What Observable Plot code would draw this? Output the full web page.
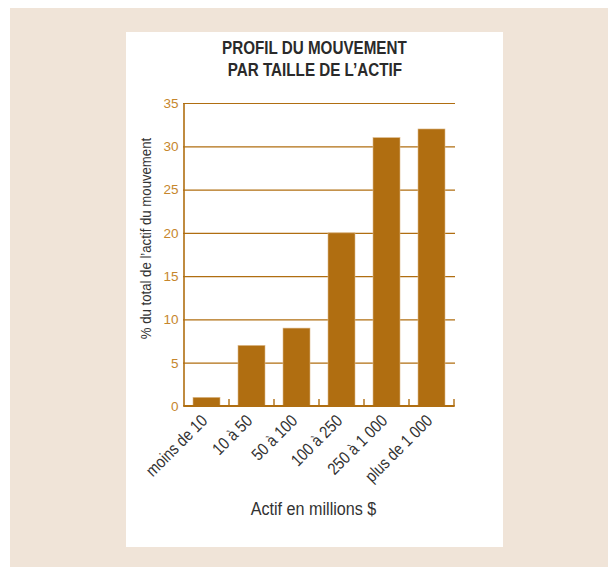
<!DOCTYPE html>
<html lang="fr">
<head>
<meta charset="utf-8">
<script src="https://cdn.jsdelivr.net/npm/d3@7"></script>
<script src="https://cdn.jsdelivr.net/npm/@observablehq/plot@0.6"></script>
<style>
  html, body { margin: 0; padding: 0; background: #ffffff; }
  body { width: 608px; height: 567px; position: relative; overflow: hidden; }
  #backdrop { position: absolute; left: 10px; top: 8px; width: 598px; height: 559px; background: #f0e4d8; }
  #panel { position: absolute; left: 126px; top: 32px; width: 377px; height: 515px; background: #ffffff; }
  #title {
    position: absolute; left: 126px; width: 377px; top: 37px; margin: 0;
    text-align: center; color: #2a2a2a;
    font: bold 19px/21.7px "Liberation Sans", Arial, sans-serif;
  }
  #title span { display: inline-block; transform: scaleX(0.8); transform-origin: 50% 50%; white-space: nowrap; }
  #chart { position: absolute; left: 0; top: 0; }
</style>
</head>
<body>
<div id="backdrop"></div>
<div id="panel"></div>
<h1 id="title"><span>PROFIL DU MOUVEMENT</span><br><span>PAR TAILLE DE L’ACTIF</span></h1>
<div id="chart"></div>
<script>
// Asset-size brackets (millions $) and their share of the movement's total assets (%)
const categories = ["moins de 10", "10 à 50", "50 à 100", "100 à 250", "250 à 1 000", "plus de 1 000"];
const shares = [1, 7, 9, 20, 31, 32];
const yTicks = [0, 5, 10, 15, 20, 25, 30, 35];
const yLabel = "% du total de l’actif du mouvement";
const xLabel = "Actif en millions $";

const rows = categories.map((c, i) => ({bracket: c, share: shares[i]}));

const gold = "#b06e11";
const tickGold = "#c6862c";
const ink = "#333333";
const font = `"Liberation Sans", Arial, sans-serif`;
const narrow = 0.85; // horizontal squeeze giving a condensed face

// Left axis line, baseline and the small upward ticks on the band edges
function axisFrame(index, {x, y}) {
  const half = (x.step() - x.bandwidth()) / 2;
  const edges = categories.map((c) => x(c) - half);
  edges.push(x(categories[categories.length - 1]) + x.bandwidth() + half);
  const y0 = y(0), yTop = y(yTicks[yTicks.length - 1]);
  const g = d3.create("svg:g").attr("stroke", gold).attr("fill", "none");
  g.append("line")
    .attr("x1", edges[0]).attr("x2", edges[0])
    .attr("y1", y0).attr("y2", yTop).attr("stroke-width", 1.6);
  g.selectAll(".edge").data(edges.slice(1)).join("line")
    .attr("x1", (d) => d).attr("x2", (d) => d)
    .attr("y1", y0).attr("y2", y0 - 7).attr("stroke-width", 1.4);
  g.append("line")
    .attr("x1", edges[0] - 0.8).attr("x2", edges[edges.length - 1] + 0.7)
    .attr("y1", y0).attr("y2", y0).attr("stroke-width", 2);
  return g.node();
}

const chart = Plot.plot({
  width: 608,
  height: 567,
  marginLeft: 183,
  marginRight: 153,
  marginTop: 103,
  marginBottom: 161,
  style: {background: "transparent", fontFamily: font, overflow: "visible"},
  x: {domain: categories, paddingInner: 0.41, paddingOuter: 0.205, axis: null},
  y: {domain: [0, 35], axis: null},
  marks: [
    Plot.ruleY(yTicks.filter((d) => d > 0), {stroke: gold, strokeWidth: 1.2}),
    Plot.barY(rows, {x: "bracket", y: "share", fill: gold, stroke: "#ddb98a", strokeWidth: 0.6}),
    axisFrame,
    Plot.axisY(yTicks, {tickSize: 0, tickPadding: 5, fontSize: 13.5, color: tickGold, label: null}),
    Plot.text(categories, {
      x: (d) => d, frameAnchor: "bottom", dx: -2.5, dy: 11.5,
      rotate: -45, textAnchor: "end", lineAnchor: "middle", fontSize: 17, fill: ink
    }),
    Plot.text([yLabel], {
      frameAnchor: "left", dx: -37, dy: -16.5, rotate: -90,
      textAnchor: "middle", lineAnchor: "middle", fontSize: 15.5, fill: ink
    }),
    Plot.text([xLabel], {
      frameAnchor: "bottom", dx: -6, dy: 108, textAnchor: "middle", lineAnchor: "bottom", fontSize: 19, fill: ink
    })
  ]
});

// Squeeze the label text marks horizontally (along their own baseline)
chart.querySelectorAll('g[aria-label="text"] text').forEach((t) => {
  let tr = t.getAttribute("transform") || "";
  const x = t.getAttribute("x");
  if (x && !isNaN(+x)) {
    tr += ` translate(${+x},0)`;
    t.removeAttribute("x");
  }
  t.setAttribute("transform", `${tr} scale(${narrow},1)`.trim());
});

document.getElementById("chart").append(chart);
</script>
</body>
</html>
